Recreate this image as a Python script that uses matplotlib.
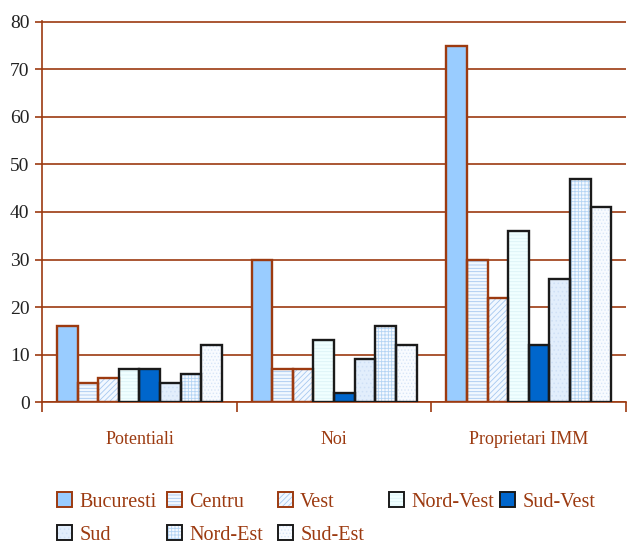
import matplotlib.pyplot as plt
from matplotlib.legend_handler import HandlerTuple
import numpy as np

categorii = ['Potentiali', 'Noi', 'Proprietari IMM']
regiuni = ['Bucuresti', 'Centru', 'Vest', 'Nord-Vest', 'Sud-Vest', 'Sud', 'Nord-Est', 'Sud-Est']

bucuresti = [16, 30, 75]
centru = [4, 7, 30]
vest = [5, 7, 22]
nord_vest = [7, 13, 36]
sud_vest = [7, 2, 12]
sud = [4, 9, 26]
nord_est = [6, 16, 47]
sud_est = [12, 12, 41]

valori = [bucuresti, centru, vest, nord_vest, sud_vest, sud, nord_est, sud_est]

# stil pentru fiecare regiune: culoare fundal, hasura, culoare hasura, contur
maro = '#9c3a10'
stiluri = [
    ('#99ccff', None, '#99ccff', maro),
    ('#f2f8ff', '-----', '#a6c8f0', maro),
    ('#f2f8ff', '//////', '#a6c8f0', maro),
    ('#f0ffff', '-----', '#dcf2f6', '#1a1a1a'),
    ('#0066cc', None, '#0066cc', '#1a1a1a'),
    ('#e2eefc', '....', '#cfe0f6', '#1a1a1a'),
    ('#f6faff', '+++++', '#b4d4f4', '#1a1a1a'),
    ('#f8fbff', '.....', '#d8e6f8', '#1a1a1a'),
]

plt.rcParams['font.family'] = ['Liberation Serif', 'DejaVu Serif']
plt.rcParams['hatch.linewidth'] = 0.6

fig = plt.figure(figsize=(6.28, 5.46), dpi=100)
ax = fig.add_axes([0.067, 0.2637, 0.93, 0.6978])

n = len(regiuni)
latime = 0.106
start = (1 - n * latime) / 2
x = np.arange(len(categorii))

handles = []
for i in range(n):
    fata, hasura, cul_hasura, contur = stiluri[i]
    poz = x + start + latime * (i + 0.5)
    ax.bar(poz, valori[i], width=latime, color=fata, hatch=hasura,
           edgecolor=cul_hasura, linewidth=0, zorder=3)
    ax.bar(poz, valori[i], width=latime, fill=False, edgecolor=contur,
           linewidth=1.7, zorder=4)
    h1 = plt.Rectangle((0, 0), 1, 1, facecolor=fata, hatch=hasura,
                       edgecolor=cul_hasura, linewidth=0)
    h2 = plt.Rectangle((0, 0), 1, 1, fill=False, edgecolor=contur, linewidth=1.4)
    handles.append((h1, h2))

ax.set_xlim(0, 3)
ax.set_ylim(0, 80.2)
ax.set_yticks(range(0, 81, 10))
ax.yaxis.grid(True, color=maro, linewidth=1.2, zorder=0)
ax.set_axisbelow(True)

ax.set_xticks([0, 1, 2, 3])
ax.set_xticklabels([])
ax.set_xticks(x + 0.5, minor=True)
ax.set_xticklabels(categorii, minor=True, color=maro, fontsize=13)
ax.tick_params(axis='x', which='minor', length=0, pad=21)
ax.tick_params(axis='x', which='major', length=7, color=maro, width=1.2)
ax.tick_params(axis='y', length=5, color=maro, width=1.2, labelsize=14,
               labelcolor='#222222', pad=4)

for s in ['top', 'right']:
    ax.spines[s].set_visible(False)
for s in ['left', 'bottom']:
    ax.spines[s].set_color(maro)
    ax.spines[s].set_linewidth(1.2)

# legenda: fiecare element pus separat, pe doua randuri
col_x = [57, 167, 278, 389, 500]
rand_y = [502, 535]
for k in range(n):
    r, c = divmod(k, 5)
    leg = fig.legend([handles[k]], [regiuni[k]], loc='center left',
                     bbox_to_anchor=(col_x[c] / 628, 1 - rand_y[r] / 546),
                     frameon=False, fontsize=14.5, handlelength=0.75,
                     handleheight=0.75, handletextpad=0.35, borderpad=0,
                     borderaxespad=0, handler_map={tuple: HandlerTuple(ndivide=1)})
    for t in leg.get_texts():
        t.set_color(maro)

fig.savefig('out.png', dpi=100)
